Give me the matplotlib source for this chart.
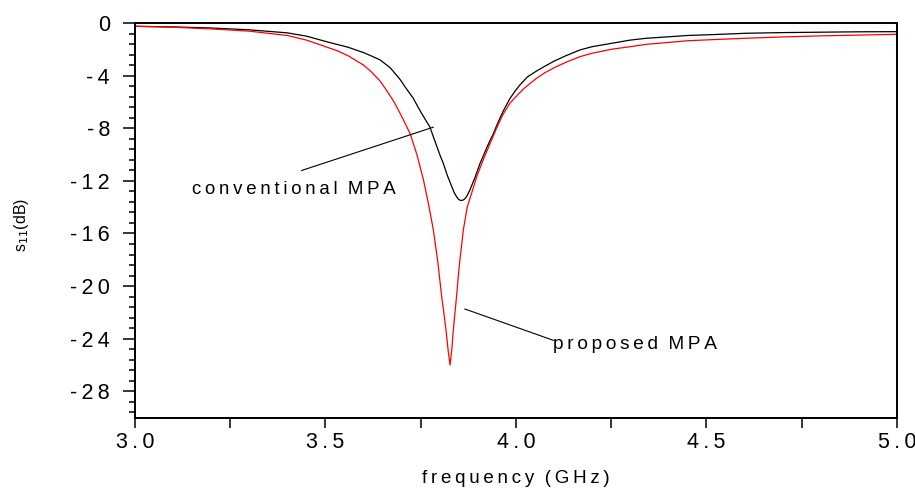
import matplotlib
matplotlib.use('Agg')
import matplotlib.pyplot as plt
from matplotlib.ticker import MultipleLocator, FuncFormatter

plt.rcParams['font.family'] = ['Liberation Sans', 'DejaVu Sans']

# conventional MPA (black)
f_conv = [3.00, 3.10, 3.20, 3.30, 3.40, 3.45, 3.50, 3.56, 3.60, 3.62, 3.643, 3.67,
          3.696, 3.71, 3.73, 3.745, 3.755, 3.774, 3.79, 3.80, 3.809, 3.82, 3.831,
          3.838, 3.845, 3.85, 3.856, 3.862, 3.868, 3.873, 3.879, 3.886, 3.893, 3.906,
          3.915, 3.923, 3.93, 3.941, 3.95, 3.96, 3.97, 3.984, 3.997, 4.01, 4.03,
          4.054, 4.075, 4.10, 4.13, 4.168, 4.20, 4.25, 4.30, 4.343, 4.40, 4.45, 4.52,
          4.605, 4.70, 4.80, 4.90, 5.00]
s11_conv = [-0.25, -0.30, -0.38, -0.52, -0.75, -1.0, -1.40, -1.85, -2.25, -2.5, -2.8, -3.4,
            -4.3, -4.9, -5.7, -6.5, -7.0, -7.9, -9.2, -10.0, -10.65, -11.6, -12.4,
            -12.9, -13.25, -13.42, -13.5, -13.45, -13.3, -13.05, -12.7, -12.2, -11.7, -10.65,
            -10.05, -9.5, -9.05, -8.4, -7.75, -7.1, -6.5, -5.75, -5.2, -4.72, -4.1,
            -3.65, -3.3, -2.9, -2.5, -2.05, -1.8, -1.55, -1.3, -1.16, -1.05, -0.95, -0.88,
            -0.78, -0.73, -0.70, -0.67, -0.66]

# proposed MPA (red)
f_prop = [3.00, 3.10, 3.20, 3.30, 3.40, 3.45, 3.50, 3.53, 3.56, 3.60, 3.62, 3.643,
          3.66, 3.68, 3.70, 3.722, 3.74, 3.757, 3.77, 3.783, 3.795, 3.805, 3.812,
          3.817, 3.822, 3.827, 3.832, 3.835, 3.839, 3.844, 3.851, 3.862, 3.872, 3.884,
          3.898, 3.914, 3.93, 3.949, 3.965, 3.984, 4.00, 4.02, 4.054, 4.075, 4.10,
          4.13, 4.168, 4.20, 4.25, 4.30, 4.343, 4.40, 4.45, 4.52, 4.605, 4.70, 4.80,
          4.90, 5.00]
s11_prop = [-0.25, -0.32, -0.45, -0.62, -0.95, -1.3, -1.8, -2.1, -2.5, -3.2, -3.7, -4.4,
            -5.1, -6.0, -7.1, -8.4, -10.0, -11.9, -13.7, -15.7, -18.2, -20.8, -22.3,
            -23.5, -24.9, -26.0, -24.7, -23.5, -22.3, -20.8, -18.5, -15.7, -14.0, -12.9,
            -11.6, -10.4, -9.3, -8.0, -7.0, -6.1, -5.6, -5.0, -4.2, -3.8, -3.4,
            -3.0, -2.56, -2.3, -2.0, -1.8, -1.62, -1.48, -1.35, -1.26, -1.16, -1.06, -0.98,
            -0.92, -0.86]

xticks = [3.0, 3.5, 4.0, 4.5, 5.0]
yticks = [0, -4, -8, -12, -16, -20, -24, -28]

SP = '\u2009'


def spaced(s):
    # wide letter spacing of the original plot
    return '  '.join(SP.join(w) for w in s.split(' '))


fig = plt.figure(figsize=(9.15, 4.88), dpi=100)
ax = fig.add_axes([0.1475, 0.1441, 0.8328, 0.8088])

ax.plot(f_conv, s11_conv, color='black', lw=0.9)
ax.plot(f_prop, s11_prop, color='red', lw=0.9)

ax.set_xlim(3.0, 5.0)
ax.set_ylim(-30, 0)
ax.set_xticks(xticks)
ax.set_yticks(yticks)
ax.xaxis.set_minor_locator(MultipleLocator(0.25))
ax.yaxis.set_minor_locator(MultipleLocator(0.8))
ax.xaxis.set_major_formatter(FuncFormatter(lambda v, p: spaced('%.1f' % v)))
ax.yaxis.set_major_formatter(FuncFormatter(lambda v, p: spaced('%d' % round(v))))

for s in ax.spines.values():
    s.set_linewidth(1.4)
ax.tick_params(which='major', direction='out', length=8.5, width=1.1, labelsize=15.5,
               top=False, right=False)
ax.tick_params(which='minor', direction='out', length=4.5, width=1.1,
               top=False, right=False)
ax.tick_params(axis='x', which='both', length=7)
ax.tick_params(axis='x', which='major', pad=3.5)
ax.tick_params(axis='y', which='major', pad=9.5)

fig.text(0.5639, 0.0102, spaced('frequency (GHz)'), fontsize=13.5,
         ha='center', va='baseline')
fig.text(0.024, 0.539, r's$_{11}$(dB)', rotation=90, fontsize=11.5,
         ha='center', va='center')

# annotations
ax.plot([3.4375, 3.783], [-11.21, -7.92], color='black', lw=0.8)
ax.text(3.149, -12.68, spaced('conventional MPA'),
        fontsize=13.4, ha='left', va='center')
ax.plot([3.866, 4.098], [-21.74, -24.12], color='black', lw=0.8)
ax.text(4.097, -24.45, spaced('proposed MPA'),
        fontsize=13.7, ha='left', va='center')

fig.savefig('out.png', dpi=100)
